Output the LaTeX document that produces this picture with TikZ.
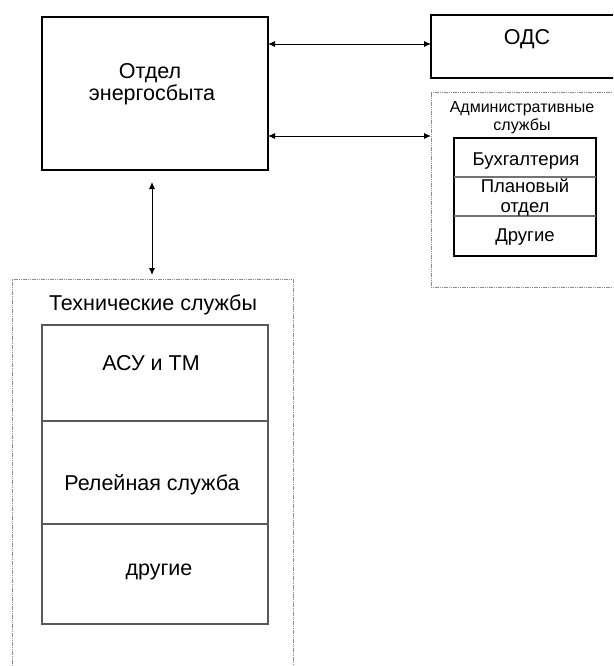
\documentclass[tikz,border=0pt]{standalone}
\usepackage{fontspec}
\setmainfont{Liberation Sans}
\usetikzlibrary{arrows.meta,calc}
\begin{document}
\begin{tikzpicture}[x=1pt,y=-1pt,
  boxbase/.style={rectangle,anchor=north west,inner sep=0pt,outer sep=0pt},
  heavybox/.style={boxbase,draw=black,line width=2.8pt},
  groupbox/.style={boxbase,draw=black!45,line width=0.9pt,dash pattern=on 1.2pt off 0.6pt},
  admincell/.style={boxbase,draw=black,line width=1.1pt,minimum width=142pt},
  techcell/.style={boxbase,draw=black!65,line width=1.6pt,minimum width=226pt},
  bigtxt/.style={anchor=base,inner sep=0pt,font=\fontsize{21.5}{24}\selectfont},
  midtxt/.style={anchor=base,inner sep=0pt,font=\fontsize{18.5}{21}\selectfont},
  smalltxt/.style={anchor=base,inner sep=0pt,font=\fontsize{16}{18}\selectfont},
  biarr/.style={line width=0.9pt,{Latex[length=7pt,width=6pt]}-{Latex[length=7pt,width=6pt]}}
]
\useasboundingbox (0,0) rectangle (613,666);
\clip (0,0) rectangle (613,666);

% main unit
\node[heavybox,minimum width=226pt,minimum height=153pt] (main) at (42,17) {};
\node[bigtxt] (mainA) at (150,79) {Отдел};
\node[bigtxt] (mainB) at (152,101) {энергосбыта};

% ODS
\node[heavybox,minimum width=192pt,minimum height=63pt] (ods) at (431,15) {};
\node[bigtxt] (odsT) at (527,45) {ОДС};

% administrative services
\node[groupbox,minimum width=192pt,minimum height=195pt] (adm) at (431,92) {};
\node[smalltxt] (admA) at (522,113) {Административные};
\node[smalltxt] (admB) at (522,131) {службы};
\node[admincell,minimum height=39pt] (buh) at (454,138) {};
\node[admincell,minimum height=39pt] (plan) at (454,177) {};
\node[admincell,minimum height=40pt] (oth) at (454,216) {};
\draw[black!55,line width=1.1pt] (buh.south west) -- (buh.south east);
\draw[black!55,line width=1.1pt] (plan.south west) -- (plan.south east);
\node[midtxt] (buhT) at (526,165) {Бухгалтерия};
\node[midtxt] (planA) at (525,192) {Плановый};
\node[midtxt] (planB) at (525,212) {отдел};
\node[midtxt] (othT) at (525,241) {Другие};

% technical services
\node[groupbox,minimum width=281pt,minimum height=420pt] (tech) at (12,279) {};
\node[bigtxt] (techT) at (153,310) {Технические службы};
\node[techcell,minimum height=96pt] (asu) at (42,325) {};
\node[techcell,minimum height=103pt] (rel) at (42,421) {};
\node[techcell,minimum height=100pt] (drg) at (42,524) {};
\node[bigtxt] (asuT) at (151,370) {АСУ и ТМ};
\node[bigtxt] (relT) at (152,490) {Релейная служба};
\node[bigtxt] (drgT) at (159,575) {другие};

% connectors
\coordinate (r1) at (0,44);
\coordinate (r2) at (0,136);
\draw[biarr] (main.east |- r1) -- (ods.west |- r1);
\draw[biarr] (main.east |- r2) -- (adm.west |- r2);
\coordinate (c1) at (152,0);
\draw[biarr] ($(main.south -| c1)+(0,12)$) -- ($(tech.north -| c1)+(0,-4)$);
\end{tikzpicture}
\end{document}
